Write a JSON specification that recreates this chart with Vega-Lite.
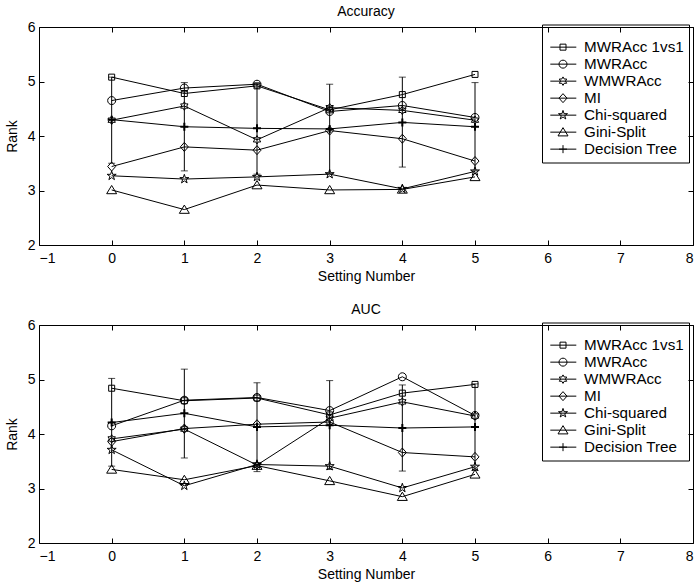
{
  "$schema": "https://vega.github.io/schema/vega-lite/v6.json",
  "background": "white",
  "padding": {"left": 4, "top": 4, "right": 0, "bottom": 0},
  "datasets": {
    "pts": [
      {"p": "Accuracy", "m": "MWRAcc 1vs1", "x": 0, "y": 5.08},
      {"p": "Accuracy", "m": "MWRAcc 1vs1", "x": 1, "y": 4.78},
      {"p": "Accuracy", "m": "MWRAcc 1vs1", "x": 2, "y": 4.92},
      {"p": "Accuracy", "m": "MWRAcc 1vs1", "x": 3, "y": 4.48},
      {"p": "Accuracy", "m": "MWRAcc 1vs1", "x": 4, "y": 4.76},
      {"p": "Accuracy", "m": "MWRAcc 1vs1", "x": 5, "y": 5.13},
      {"p": "Accuracy", "m": "MWRAcc", "x": 0, "y": 4.65},
      {"p": "Accuracy", "m": "MWRAcc", "x": 1, "y": 4.88},
      {"p": "Accuracy", "m": "MWRAcc", "x": 2, "y": 4.95},
      {"p": "Accuracy", "m": "MWRAcc", "x": 3, "y": 4.45},
      {"p": "Accuracy", "m": "MWRAcc", "x": 4, "y": 4.56},
      {"p": "Accuracy", "m": "MWRAcc", "x": 5, "y": 4.34},
      {"p": "Accuracy", "m": "WMWRAcc", "x": 0, "y": 4.29},
      {"p": "Accuracy", "m": "WMWRAcc", "x": 1, "y": 4.55},
      {"p": "Accuracy", "m": "WMWRAcc", "x": 2, "y": 3.93},
      {"p": "Accuracy", "m": "WMWRAcc", "x": 3, "y": 4.52},
      {"p": "Accuracy", "m": "WMWRAcc", "x": 4, "y": 4.47},
      {"p": "Accuracy", "m": "WMWRAcc", "x": 5, "y": 4.29},
      {"p": "Accuracy", "m": "MI", "x": 0, "y": 3.44},
      {"p": "Accuracy", "m": "MI", "x": 1, "y": 3.8},
      {"p": "Accuracy", "m": "MI", "x": 2, "y": 3.74},
      {"p": "Accuracy", "m": "MI", "x": 3, "y": 4.1},
      {"p": "Accuracy", "m": "MI", "x": 4, "y": 3.95},
      {"p": "Accuracy", "m": "MI", "x": 5, "y": 3.54},
      {"p": "Accuracy", "m": "Chi-squared", "x": 0, "y": 3.27},
      {"p": "Accuracy", "m": "Chi-squared", "x": 1, "y": 3.21},
      {"p": "Accuracy", "m": "Chi-squared", "x": 2, "y": 3.25},
      {"p": "Accuracy", "m": "Chi-squared", "x": 3, "y": 3.3},
      {"p": "Accuracy", "m": "Chi-squared", "x": 4, "y": 3.03},
      {"p": "Accuracy", "m": "Chi-squared", "x": 5, "y": 3.35},
      {"p": "Accuracy", "m": "Gini-Split", "x": 0, "y": 3.01},
      {"p": "Accuracy", "m": "Gini-Split", "x": 1, "y": 2.65},
      {"p": "Accuracy", "m": "Gini-Split", "x": 2, "y": 3.1},
      {"p": "Accuracy", "m": "Gini-Split", "x": 3, "y": 3.01},
      {"p": "Accuracy", "m": "Gini-Split", "x": 4, "y": 3.02},
      {"p": "Accuracy", "m": "Gini-Split", "x": 5, "y": 3.25},
      {"p": "Accuracy", "m": "Decision Tree", "x": 0, "y": 4.3},
      {"p": "Accuracy", "m": "Decision Tree", "x": 1, "y": 4.17},
      {"p": "Accuracy", "m": "Decision Tree", "x": 2, "y": 4.14},
      {"p": "Accuracy", "m": "Decision Tree", "x": 3, "y": 4.13},
      {"p": "Accuracy", "m": "Decision Tree", "x": 4, "y": 4.25},
      {"p": "Accuracy", "m": "Decision Tree", "x": 5, "y": 4.17},
      {"p": "AUC", "m": "MWRAcc 1vs1", "x": 0, "y": 4.84},
      {"p": "AUC", "m": "MWRAcc 1vs1", "x": 1, "y": 4.61},
      {"p": "AUC", "m": "MWRAcc 1vs1", "x": 2, "y": 4.66},
      {"p": "AUC", "m": "MWRAcc 1vs1", "x": 3, "y": 4.35},
      {"p": "AUC", "m": "MWRAcc 1vs1", "x": 4, "y": 4.75},
      {"p": "AUC", "m": "MWRAcc 1vs1", "x": 5, "y": 4.91},
      {"p": "AUC", "m": "MWRAcc", "x": 0, "y": 4.15},
      {"p": "AUC", "m": "MWRAcc", "x": 1, "y": 4.62},
      {"p": "AUC", "m": "MWRAcc", "x": 2, "y": 4.67},
      {"p": "AUC", "m": "MWRAcc", "x": 3, "y": 4.43},
      {"p": "AUC", "m": "MWRAcc", "x": 4, "y": 5.05},
      {"p": "AUC", "m": "MWRAcc", "x": 5, "y": 4.34},
      {"p": "AUC", "m": "WMWRAcc", "x": 0, "y": 3.91},
      {"p": "AUC", "m": "WMWRAcc", "x": 1, "y": 4.09},
      {"p": "AUC", "m": "WMWRAcc", "x": 2, "y": 3.43},
      {"p": "AUC", "m": "WMWRAcc", "x": 3, "y": 4.29},
      {"p": "AUC", "m": "WMWRAcc", "x": 4, "y": 4.59},
      {"p": "AUC", "m": "WMWRAcc", "x": 5, "y": 4.33},
      {"p": "AUC", "m": "MI", "x": 0, "y": 3.86},
      {"p": "AUC", "m": "MI", "x": 1, "y": 4.1},
      {"p": "AUC", "m": "MI", "x": 2, "y": 4.18},
      {"p": "AUC", "m": "MI", "x": 3, "y": 4.22},
      {"p": "AUC", "m": "MI", "x": 4, "y": 3.66},
      {"p": "AUC", "m": "MI", "x": 5, "y": 3.58},
      {"p": "AUC", "m": "Chi-squared", "x": 0, "y": 3.71},
      {"p": "AUC", "m": "Chi-squared", "x": 1, "y": 3.05},
      {"p": "AUC", "m": "Chi-squared", "x": 2, "y": 3.44},
      {"p": "AUC", "m": "Chi-squared", "x": 3, "y": 3.41},
      {"p": "AUC", "m": "Chi-squared", "x": 4, "y": 3.01},
      {"p": "AUC", "m": "Chi-squared", "x": 5, "y": 3.4},
      {"p": "AUC", "m": "Gini-Split", "x": 0, "y": 3.35},
      {"p": "AUC", "m": "Gini-Split", "x": 1, "y": 3.16},
      {"p": "AUC", "m": "Gini-Split", "x": 2, "y": 3.42},
      {"p": "AUC", "m": "Gini-Split", "x": 3, "y": 3.14},
      {"p": "AUC", "m": "Gini-Split", "x": 4, "y": 2.85},
      {"p": "AUC", "m": "Gini-Split", "x": 5, "y": 3.26},
      {"p": "AUC", "m": "Decision Tree", "x": 0, "y": 4.21},
      {"p": "AUC", "m": "Decision Tree", "x": 1, "y": 4.38},
      {"p": "AUC", "m": "Decision Tree", "x": 2, "y": 4.13},
      {"p": "AUC", "m": "Decision Tree", "x": 3, "y": 4.16},
      {"p": "AUC", "m": "Decision Tree", "x": 4, "y": 4.11},
      {"p": "AUC", "m": "Decision Tree", "x": 5, "y": 4.13}
    ],
    "err": [
      {"p": "Accuracy", "x": 0, "lo": 3.5, "hi": 5.08},
      {"p": "Accuracy", "x": 1, "lo": 3.36, "hi": 4.98},
      {"p": "Accuracy", "x": 2, "lo": 3.3, "hi": 4.96},
      {"p": "Accuracy", "x": 3, "lo": 3.31, "hi": 4.95},
      {"p": "Accuracy", "x": 4, "lo": 3.43, "hi": 5.08},
      {"p": "Accuracy", "x": 5, "lo": 3.36, "hi": 4.98},
      {"p": "AUC", "x": 0, "lo": 3.41, "hi": 5.02},
      {"p": "AUC", "x": 1, "lo": 3.56, "hi": 5.19},
      {"p": "AUC", "x": 2, "lo": 3.31, "hi": 4.94},
      {"p": "AUC", "x": 3, "lo": 3.35, "hi": 4.98},
      {"p": "AUC", "x": 4, "lo": 3.32, "hi": 4.9},
      {"p": "AUC", "x": 5, "lo": 3.33, "hi": 4.92}
    ]
  },
  "spacing": 80,
  "bounds": "flush",
  "vconcat": [
    {
      "title": {"text": "Accuracy"},
      "width": 654,
      "height": 218,
      "resolve": {"scale": {"shape": "independent", "strokeWidth": "independent"}},
      "layer": [
        {
          "data": {"name": "err"},
          "transform": [{"filter": "datum.p === 'Accuracy'"}],
          "mark": {"type": "errorbar", "ticks": {"size": 7, "color": "black", "strokeWidth": 1}, "rule": {"color": "black", "strokeWidth": 1}},
          "encoding": {
            "x": {"field": "x", "type": "quantitative", "scale": {"domain": [-1, 8], "zero": false}, "axis": null},
            "y": {"field": "lo", "type": "quantitative", "scale": {"domain": [2, 6], "zero": false}, "axis": null},
            "y2": {"field": "hi"}
          }
        },
        {
          "data": {"name": "pts"},
          "transform": [{"filter": "datum.p === 'Accuracy'"}],
          "mark": {"type": "line", "color": "black"},
          "encoding": {
            "x": {"field": "x", "type": "quantitative", "scale": {"domain": [-1, 8]}, "axis": {"orient": "top", "labels": false, "title": null, "domain": false, "grid": false, "tickSize": -5, "values": [-1,0,1,2,3,4,5,6,7,8]}},
            "y": {"field": "y", "type": "quantitative", "scale": {"domain": [2, 6]}, "axis": {"orient": "right", "labels": false, "title": null, "domain": false, "grid": false, "tickSize": -5, "values": [2,3,4,5,6]}},
            "detail": {"field": "m"},
            "strokeWidth": {
              "field": "m", "type": "nominal",
              "scale": {"domain": ["MWRAcc 1vs1","MWRAcc","WMWRAcc","MI","Chi-squared","Gini-Split","Decision Tree"], "range": [1,1,1,1,1,1,2.5]},
              "legend": {"orient": "none", "legendX": 503, "legendY": -2.5, "title": " ", "titleFontSize": 4, "titlePadding": 5.3, "symbolType": "stroke", "symbolSize": 676, "symbolStrokeColor": "black", "padding": 5, "symbolOffset": 2.8, "clipHeight": 16.7, "rowPadding": 0, "labelExpr": "''", "labelFontSize": 15.2}
            }
          }
        },
        {
          "data": {"name": "pts"},
          "transform": [{"filter": "datum.p === 'Accuracy'"}],
          "mark": {"type": "point", "filled": false, "color": "black", "opacity": 1, "size": 100},
          "encoding": {
            "x": {"field": "x", "type": "quantitative", "scale": {"domain": [-1, 8]}, "axis": {"orient": "bottom", "title": "Setting Number", "domain": false, "grid": false, "tickSize": -5, "labelPadding": 11, "titlePadding": 4, "values": [-1,0,1,2,3,4,5,6,7,8]}},
            "y": {"field": "y", "type": "quantitative", "scale": {"domain": [2, 6]}, "axis": {"orient": "left", "title": "Rank", "domain": false, "grid": false, "tickSize": -5, "labelPadding": 9, "titlePadding": 8, "values": [2,3,4,5,6]}},
            "shape": {
              "field": "m", "type": "nominal",
              "scale": {"domain": ["MWRAcc 1vs1","MWRAcc","WMWRAcc","MI","Chi-squared","Gini-Split","Decision Tree"],
                "range": [
                  "M-0.6,-0.6L0.6,-0.6L0.6,0.6L-0.6,0.6Z",
                  "M0.8,0A0.8,0.8,0,1,1,-0.8,0A0.8,0.8,0,1,1,0.8,0Z",
                  "M0,-0.85L0.245,-0.425L0.736,-0.425L0.49,0L0.736,0.425L0.245,0.425L0,0.85L-0.245,0.425L-0.736,0.425L-0.49,0L-0.736,-0.425L-0.245,-0.425Z",
                  "M0,-0.9L0.8,0L0,0.9L-0.8,0Z",
                  "M0,-0.95L0.212,-0.291L0.903,-0.294L0.342,0.111L0.558,0.769L0,0.36L-0.558,0.769L-0.342,0.111L-0.903,-0.294L-0.212,-0.291Z",
                  "M0,-0.9L1,0.75L-1,0.75Z",
                  "M-0.8,0L0.8,0M0,-0.8L0,0.8"
                ]},
              "legend": {"orient": "none", "legendX": 503, "legendY": -2.5, "title": " ", "titleFontSize": 4, "titlePadding": 5.3, "strokeColor": "black", "fillColor": null, "padding": 5, "symbolOffset": 8.4, "labelOffset": 13.5, "clipHeight": 16.7, "rowPadding": 0, "symbolSize": 100, "symbolStrokeColor": "black", "symbolFillColor": "transparent", "symbolStrokeWidth": 1, "labelFontSize": 15.2, "labelFont": "Liberation Sans", "labelColor": "black"}
            },
            "strokeWidth": {"condition": {"test": "datum.m === 'Decision Tree'", "value": 2}, "value": 1}
          }
        }
      ]
    },
    {
      "title": {"text": "AUC"},
      "width": 654,
      "height": 218,
      "resolve": {"scale": {"shape": "independent", "strokeWidth": "independent"}},
      "layer": [
        {
          "data": {"name": "err"},
          "transform": [{"filter": "datum.p === 'AUC'"}],
          "mark": {"type": "errorbar", "ticks": {"size": 7, "color": "black", "strokeWidth": 1}, "rule": {"color": "black", "strokeWidth": 1}},
          "encoding": {
            "x": {"field": "x", "type": "quantitative", "scale": {"domain": [-1, 8], "zero": false}, "axis": null},
            "y": {"field": "lo", "type": "quantitative", "scale": {"domain": [2, 6], "zero": false}, "axis": null},
            "y2": {"field": "hi"}
          }
        },
        {
          "data": {"name": "pts"},
          "transform": [{"filter": "datum.p === 'AUC'"}],
          "mark": {"type": "line", "color": "black"},
          "encoding": {
            "x": {"field": "x", "type": "quantitative", "scale": {"domain": [-1, 8]}, "axis": {"orient": "top", "labels": false, "title": null, "domain": false, "grid": false, "tickSize": -5, "values": [-1,0,1,2,3,4,5,6,7,8]}},
            "y": {"field": "y", "type": "quantitative", "scale": {"domain": [2, 6]}, "axis": {"orient": "right", "labels": false, "title": null, "domain": false, "grid": false, "tickSize": -5, "values": [2,3,4,5,6]}},
            "detail": {"field": "m"},
            "strokeWidth": {
              "field": "m", "type": "nominal",
              "scale": {"domain": ["MWRAcc 1vs1","MWRAcc","WMWRAcc","MI","Chi-squared","Gini-Split","Decision Tree"], "range": [1,1,1,1,1,1,2.5]},
              "legend": {"orient": "none", "legendX": 503, "legendY": -2.5, "title": " ", "titleFontSize": 4, "titlePadding": 5.3, "symbolType": "stroke", "symbolSize": 676, "symbolStrokeColor": "black", "padding": 5, "symbolOffset": 2.8, "clipHeight": 16.7, "rowPadding": 0, "labelExpr": "''", "labelFontSize": 15.2}
            }
          }
        },
        {
          "data": {"name": "pts"},
          "transform": [{"filter": "datum.p === 'AUC'"}],
          "mark": {"type": "point", "filled": false, "color": "black", "opacity": 1, "size": 100},
          "encoding": {
            "x": {"field": "x", "type": "quantitative", "scale": {"domain": [-1, 8]}, "axis": {"orient": "bottom", "title": "Setting Number", "domain": false, "grid": false, "tickSize": -5, "labelPadding": 11, "titlePadding": 4, "values": [-1,0,1,2,3,4,5,6,7,8]}},
            "y": {"field": "y", "type": "quantitative", "scale": {"domain": [2, 6]}, "axis": {"orient": "left", "title": "Rank", "domain": false, "grid": false, "tickSize": -5, "labelPadding": 9, "titlePadding": 8, "values": [2,3,4,5,6]}},
            "shape": {
              "field": "m", "type": "nominal",
              "scale": {"domain": ["MWRAcc 1vs1","MWRAcc","WMWRAcc","MI","Chi-squared","Gini-Split","Decision Tree"],
                "range": [
                  "M-0.6,-0.6L0.6,-0.6L0.6,0.6L-0.6,0.6Z",
                  "M0.8,0A0.8,0.8,0,1,1,-0.8,0A0.8,0.8,0,1,1,0.8,0Z",
                  "M0,-0.85L0.245,-0.425L0.736,-0.425L0.49,0L0.736,0.425L0.245,0.425L0,0.85L-0.245,0.425L-0.736,0.425L-0.49,0L-0.736,-0.425L-0.245,-0.425Z",
                  "M0,-0.9L0.8,0L0,0.9L-0.8,0Z",
                  "M0,-0.95L0.212,-0.291L0.903,-0.294L0.342,0.111L0.558,0.769L0,0.36L-0.558,0.769L-0.342,0.111L-0.903,-0.294L-0.212,-0.291Z",
                  "M0,-0.9L1,0.75L-1,0.75Z",
                  "M-0.8,0L0.8,0M0,-0.8L0,0.8"
                ]},
              "legend": {"orient": "none", "legendX": 503, "legendY": -2.5, "title": " ", "titleFontSize": 4, "titlePadding": 5.3, "strokeColor": "black", "fillColor": null, "padding": 5, "symbolOffset": 8.4, "labelOffset": 13.5, "clipHeight": 16.7, "rowPadding": 0, "symbolSize": 100, "symbolStrokeColor": "black", "symbolFillColor": "transparent", "symbolStrokeWidth": 1, "labelFontSize": 15.2, "labelFont": "Liberation Sans", "labelColor": "black"}
            },
            "strokeWidth": {"condition": {"test": "datum.m === 'Decision Tree'", "value": 2}, "value": 1}
          }
        }
      ]
    }
  ],
  "config": {
    "font": "Liberation Sans",
    "view": {"stroke": "black", "strokeWidth": 1},
    "title": {"fontSize": 14, "fontWeight": "normal", "color": "black", "offset": 1, "font": "Liberation Sans"},
    "axis": {"labelFontSize": 14, "titleFontSize": 14, "titleFontWeight": "normal", "labelColor": "black", "titleColor": "black", "tickColor": "black", "labelFont": "Liberation Sans", "titleFont": "Liberation Sans", "grid": false},
    "legend": {"cornerRadius": 0, "strokeWidth": 1}
  }
}
